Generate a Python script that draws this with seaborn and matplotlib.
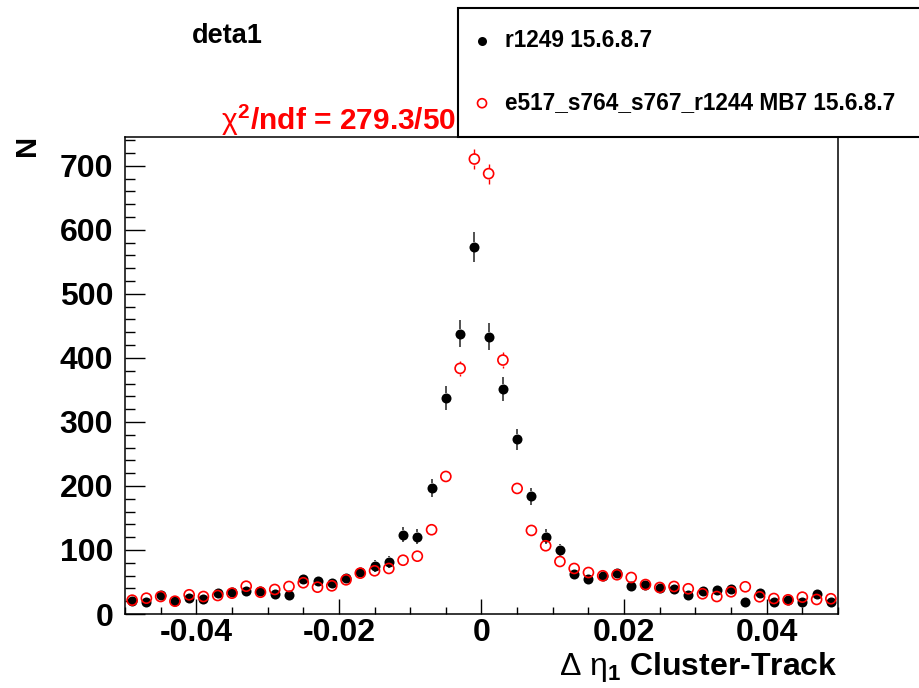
import numpy as np
import pandas as pd
import matplotlib
matplotlib.use("Agg")
import matplotlib.pyplot as plt
import seaborn as sns
from matplotlib.patches import Rectangle
from matplotlib.ticker import MultipleLocator

# ---------------- data ----------------
bin_centers = np.linspace(-0.049, 0.049, 50)
data_counts = [21, 18, 29, 21, 25, 23, 33, 35, 36, 36, 32, 29,
               54, 51, 48, 56, 66, 75, 81, 124, 121, 197, 337, 438,
               573,
               433, 352, 273, 184, 121, 100, 63, 54, 60, 64, 43, 46,
               41, 39, 30, 36, 37, 39, 19, 33, 19, 22, 18, 32, 18]
mc_counts = [21.6, 24.7, 27.3, 20.0, 30.0, 27.3, 28.9, 32.5, 43.4, 34.0, 38.3, 43.0,
             48.8, 41.9, 44.0, 53.4, 63.8, 67.5, 71.1, 84.0, 90.3, 131.6, 214.8, 383.6,
             710.6,
             687.8, 396.6, 196.1, 130.5, 106.6, 82.0, 71.1, 64.8, 59.7, 61.3, 57.0, 46.0,
             41.4, 43.0, 39.4, 31.6, 27.3, 34.7, 42.5, 26.9, 24.2, 22.2, 26.3, 22.7, 23.8]
mc_err_scale = 0.6
data_label = "r1249 15.6.8.7"
mc_label = "e517_s764_s767_r1244 MB7 15.6.8.7"
title = "deta1"
chi2_text = r"$\chi^{2}$/ndf = 279.3/50"
x_title = r"$\mathsf{\Delta}\ \eta_{1}$ Cluster-Track"
x_ticks = [-0.04, -0.02, 0, 0.02, 0.04]
x_tick_labels = ["-0.04", "-0.02", "0", "0.02", "0.04"]

df_data = pd.DataFrame({"x": bin_centers, "N": data_counts})
df_data["err"] = np.sqrt(df_data["N"])
df_mc = pd.DataFrame({"x": bin_centers, "N": mc_counts})
df_mc["err"] = mc_err_scale * np.sqrt(df_mc["N"])

# ---------------- style ----------------
sns.set_theme(style="white")
plt.rcParams["font.family"] = ["Liberation Sans", "DejaVu Sans"]
plt.rcParams["text.color"] = "black"
plt.rcParams["axes.labelcolor"] = "black"
plt.rcParams["xtick.color"] = "black"
plt.rcParams["ytick.color"] = "black"
plt.rcParams["mathtext.fontset"] = "custom"
plt.rcParams["mathtext.rm"] = "Liberation Sans:bold"
plt.rcParams["mathtext.it"] = "Liberation Sans:regular"
plt.rcParams["mathtext.sf"] = "Liberation Sans:regular"
plt.rcParams["mathtext.bf"] = "Liberation Sans:bold"

W, H = 920, 688
fig = plt.figure(figsize=(W / 100, H / 100), dpi=100)
ax = fig.add_axes([125 / W, (H - 614) / H, (838 - 125) / W, (614 - 137) / H])

ymax = 745
ax.set_xlim(-0.05, 0.05)
ax.set_ylim(0, ymax)

# error bars with a gap around the marker (ROOT style)
px_per_unit = (614 - 137) / ymax


def gap_bars(df, gap_px, color, lw):
    gap = gap_px / px_per_unit
    sel = df[df["err"] > gap]
    ax.vlines(sel["x"], sel["N"] + gap, sel["N"] + sel["err"], color=color, lw=lw, zorder=2)
    ax.vlines(sel["x"], sel["N"] - sel["err"], sel["N"] - gap, color=color, lw=lw, zorder=2)


gap_bars(df_data, 5.0, "#222222", 1.1)
gap_bars(df_mc, 5.5, "red", 1.0)

sns.scatterplot(data=df_data, x="x", y="N", ax=ax, color="black", s=52,
                linewidth=0, marker="o", label=data_label, zorder=3)
sns.scatterplot(data=df_mc, x="x", y="N", ax=ax, facecolor="none", edgecolor="red",
                s=52, linewidth=1.2, marker="o", label=mc_label, zorder=4)

handles, labels = ax.get_legend_handles_labels()
if ax.get_legend() is not None:
    ax.get_legend().remove()

# axes styling
for sp in ax.spines.values():
    sp.set_visible(True)
    sp.set_color("black")
    sp.set_linewidth(1.1)

ax.set_xticks(x_ticks)
ax.set_xticklabels(x_tick_labels)
ax.xaxis.set_minor_locator(MultipleLocator(0.005))
ax.yaxis.set_major_locator(MultipleLocator(100))
ax.yaxis.set_minor_locator(MultipleLocator(20))
ax.tick_params(axis="x", which="major", direction="in", length=10.8, width=1.0,
               labelsize=23, pad=3, bottom=True, top=False, colors="black")
ax.tick_params(axis="x", which="minor", direction="in", length=5.0, width=1.0,
               bottom=True, top=False, colors="black")
ax.tick_params(axis="y", which="major", direction="in", length=14.4, width=1.0,
               labelsize=23, pad=8.5, left=True, right=False, colors="black")
ax.tick_params(axis="y", which="minor", direction="in", length=7.2, width=1.0,
               left=True, right=False, colors="black")
for lab in ax.get_xticklabels() + ax.get_yticklabels():
    lab.set_fontweight("bold")
ax.set_xlabel("")
ax.set_ylabel("")

# texts
fig.text(192 / W, (H - 43) / H, title, fontsize=19.5, fontweight="bold",
         color="black", ha="left", va="baseline", zorder=1)
fig.text(221 / W, (H - 130) / H, chi2_text, fontsize=21.5, fontweight="bold",
         color="red", ha="left", va="baseline", zorder=1)
fig.text(27 / W, (H - 145) / H, "N", fontsize=21, fontweight="bold", color="black",
         rotation=90, ha="center", va="center")
fig.text(838 / W, (H - 675) / H, x_title, fontsize=23,
         fontweight="bold", color="black", ha="right", va="baseline")

# legend box
box = Rectangle((458 / W, (H - 137) / H), (W - 458 + 20) / W, (137 - 8) / H,
                transform=fig.transFigure, facecolor="white", edgecolor="black",
                linewidth=1.5, zorder=5, clip_on=False)
fig.patches.append(box)
leg = fig.legend(handles, labels, loc="upper left",
                 bbox_to_anchor=(470.7 / W, (H - 29) / H), frameon=False,
                 fontsize=16.3, handlelength=1.0, handletextpad=0.52,
                 labelspacing=1.73, borderpad=0, borderaxespad=0, markerscale=0.9)
leg.set_zorder(6)
for t in leg.get_texts():
    t.set_fontweight("bold")
    t.set_color("black")

fig.savefig("out.png", dpi=100)
